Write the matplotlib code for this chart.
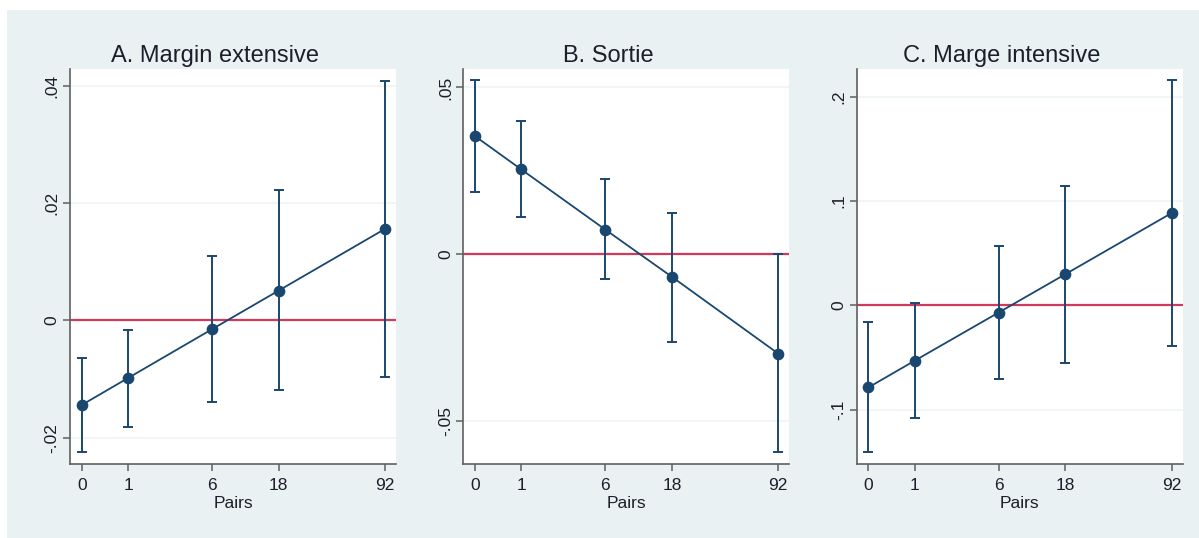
import numpy as np
import matplotlib
matplotlib.use("Agg")
import matplotlib.pyplot as plt
from matplotlib.patches import Rectangle

plt.rcParams['font.family'] = ['Liberation Sans', 'DejaVu Sans']

# ---- data ----
pairs = [0, 1, 6, 18, 92]
pair_labels = ["0", "1", "6", "18", "92"]

titles = ["A. Margin extensive", "B. Sortie", "C. Marge intensive"]

coef_a = [-0.0144, -0.0098, -0.0015, 0.0051, 0.0156]
lo_a = [-0.0224, -0.0181, -0.0139, -0.0119, -0.0096]
hi_a = [-0.0064, -0.0016, 0.0110, 0.0222, 0.0409]

coef_b = [0.0354, 0.0254, 0.0074, -0.0068, -0.0298]
lo_b = [0.0186, 0.0111, -0.0075, -0.0264, -0.0593]
hi_b = [0.0523, 0.0399, 0.0225, 0.0125, 0.0000]

coef_c = [-0.0787, -0.0530, -0.0069, 0.0299, 0.0885]
lo_c = [-0.1405, -0.1083, -0.0708, -0.0550, -0.0392]
hi_c = [-0.0161, 0.0023, 0.0570, 0.1148, 0.2162]

yticks_a = [-0.02, 0, 0.02, 0.04]
ytlabels_a = ["-.02", "0", ".02", ".04"]
yticks_b = [-0.05, 0, 0.05]
ytlabels_b = ["-.05", "0", ".05"]
yticks_c = [-0.1, 0, 0.1, 0.2]
ytlabels_c = ["-.1", "0", ".1", ".2"]

ylims = [(-0.02444, 0.04293), (-0.06287, 0.05565), (-0.1520, 0.2270)]

# ---- style ----
navy = "#1A476F"
red = "#D03A5C"
bg = "#EAF1F3"
grid_c = "#EDF3F5"
axis_c = "#5F5F5F"
text_c = "#1E1E2A"

fig = plt.figure(figsize=(11.99, 5.38), dpi=100)
fig.patch.set_facecolor("white")
fig.patches.append(Rectangle((7 / 1199, 0), 1192 / 1199, 528 / 538,
                             transform=fig.transFigure, facecolor=bg,
                             edgecolor="none", zorder=-10))

lefts = [70 / 1199, 463.3 / 1199, 856.7 / 1199]
width = 326 / 1199
bottom = (538 - 463.9) / 538
height = (463.9 - 68.6) / 538

series = [(coef_a, lo_a, hi_a, yticks_a, ytlabels_a),
          (coef_b, lo_b, hi_b, yticks_b, ytlabels_b),
          (coef_c, lo_c, hi_c, yticks_c, ytlabels_c)]

for i, (coef, lo, hi, yt, ytl) in enumerate(series):
    ax = fig.add_axes([lefts[i], bottom, width, height])
    ax.set_facecolor("white")
    ax.set_xscale("function", functions=(np.log1p, np.expm1))
    ax.set_xlim(np.expm1(-0.175), np.expm1(4.698))
    ax.set_ylim(*ylims[i])

    for t in yt:
        if t != 0:
            ax.axhline(t, color=grid_c, lw=1.2, zorder=0)
    ax.axhline(0, color=red, lw=1.6, zorder=1)

    c = np.array(coef)
    yerr = np.vstack([c - np.array(lo), np.array(hi) - c])
    ax.errorbar(pairs, coef, yerr=yerr, fmt="none", ecolor=navy,
                elinewidth=1.4, capsize=3.6, capthick=1.4, zorder=2)
    ax.plot(pairs, coef, color=navy, lw=1.3, marker="o", markersize=7.4,
            markerfacecolor=navy, markeredgecolor=navy, zorder=3)

    ax.set_xticks(pairs)
    ax.set_xticklabels(pair_labels)
    ax.minorticks_off()
    ax.set_yticks(yt)
    ax.set_yticklabels(ytl, rotation=90, va="center")

    for s in ["top", "right"]:
        ax.spines[s].set_visible(False)
    for s in ["left", "bottom"]:
        ax.spines[s].set_color(axis_c)
        ax.spines[s].set_linewidth(1.2)

    ax.tick_params(axis="both", colors=axis_c, length=5, width=1.1,
                   labelsize=12.5, labelcolor=text_c)
    ax.tick_params(axis="y", pad=2.5)
    ax.tick_params(axis="x", pad=5)

    ax.set_xlabel("Pairs", fontsize=12.5, color=text_c, labelpad=2)
    ax.set_title(titles[i], fontsize=17, color=text_c, pad=5,
                 x=0.5 - 18 / 326)

fig.savefig("out.png", dpi=100, facecolor=fig.get_facecolor())
